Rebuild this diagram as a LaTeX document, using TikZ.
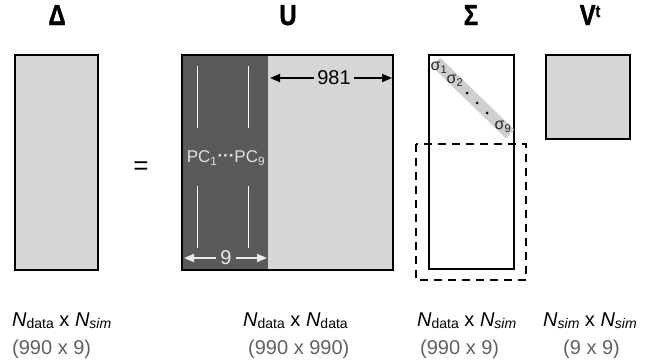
\documentclass[tikz,border=0pt]{standalone}
\usepackage{fontspec}
\setmainfont{Liberation Sans}
\newfontfamily\ttlfont{Liberation Sans}[UprightFont={* Bold}, FakeBold=1.5]
\usetikzlibrary{arrows.meta}
\definecolor{lightfill}{HTML}{D6D6D6}
\definecolor{darkfill}{HTML}{5A5A5A}
\definecolor{bandgray}{HTML}{CFCFCF}
\definecolor{subgray}{HTML}{606060}
\newcommand{\NdataLab}{\textit{N}\raisebox{-2pt}{\fontsize{14}{14}\selectfont data}}
\newcommand{\NsimLab}{\textit{N}\raisebox{-2pt}{\fontsize{14}{14}\selectfont\itshape sim}}
\newcommand{\TtlBox}[1]{\scalebox{0.82}[1]{#1}}
\begin{document}
\begin{tikzpicture}[x=1pt,y=-1pt,
  mat/.style={draw=black, line width=1.3pt, fill=lightfill},
  ttl/.style={font=\ttlfont\fontsize{29}{29}\selectfont, inner sep=0pt},
  lab1/.style={anchor=base west, inner sep=0pt, font=\fontsize{20}{20}\selectfont},
  lab2/.style={anchor=base west, inner sep=0pt, font=\fontsize{20}{20}\selectfont, text=subgray},
  arr/.style={-{Triangle[length=10pt,width=8pt]}, line width=1.8pt},
  pcline/.style={draw=white, line width=0.8pt},
  sig/.style={font=\fontsize{16}{16}\selectfont, text=black!85, inner sep=0pt}
]
\useasboundingbox (0,0) rectangle (670,364);

% titles
\node[ttl, anchor=base] (tD) at (57,25) {\TtlBox{Δ}};
\node[ttl, anchor=base] (tU) at (288,25) {\TtlBox{U}};
\node[ttl, anchor=base] (tS) at (471,25) {\TtlBox{Σ}};
\node[ttl, anchor=base] (tV) at (590,25) {\TtlBox{V\raisebox{8pt}{\fontsize{17}{17}\selectfont t}}};

% Delta matrix
\path[mat] (15,55) rectangle (98,270);

% equals sign
\node[font=\fontsize{26}{26}\selectfont, inner sep=0pt] (eq) at (141,168) {=};

% U matrix
\fill[lightfill] (182,55) rectangle (393,270);
\fill[darkfill] (182,55) rectangle (268,270);
\draw[line width=1.3pt] (182,55) rectangle (393,270);
\draw[pcline] (197,66) -- (197,128);
\draw[pcline] (248,66) -- (248,128);
\draw[pcline] (197,186) -- (197,248);
\draw[pcline] (248,186) -- (248,248);
\node[text=white!88!black, font=\fontsize{17}{17}\selectfont, inner sep=0pt] (pc) at (226,158)
  {PC\textsubscript{1}\raisebox{1pt}{\textbf{···}}PC\textsubscript{9}};

% 9 arrow
\node[text=white!92!black, font=\fontsize{20}{20}\selectfont, inner sep=4pt] (n9) at (226,258) {9};
\coordinate (n9l) at (184,258);
\coordinate (n9r) at (267,258);
\draw[arr, white!92!black] (n9.west) -- (n9l);
\draw[arr, white!92!black] (n9.east) -- (n9r);

% 981 arrow
\node[font=\fontsize{20}{20}\selectfont, inner sep=3pt] (n981) at (334,78) {981};
\coordinate (a981l) at (270,78);
\coordinate (a981r) at (392,78);
\draw[arr] (n981.west) -- (a981l);
\draw[arr] (n981.east) -- (a981r);

% Sigma matrix
\draw[line width=1.3pt, fill=white] (429,55) rectangle (514,269);
\coordinate (b1) at (436,62);
\coordinate (b2) at (510,134);
\draw[bandgray, line width=12pt] (b1) -- (b2);
\node[sig] (s1) at (439,68) {σ\textsubscript{1}};
\node[sig] (s2) at (455,81) {σ\textsubscript{2}};
\fill (467,93) circle (1.5pt);
\fill (477,103) circle (1.5pt);
\fill (487,113) circle (1.5pt);
\node[sig] (s9) at (503,127) {σ\textsubscript{9}};
\draw[line width=1.3pt, dash pattern=on 8pt off 6pt] (416,144) rectangle (526,280);

% Vt matrix
\path[mat] (546,55) rectangle (630,139);

% bottom labels
\node[lab1] (l1a) at (12,326) {\NdataLab{} x \NsimLab};
\node[lab2] (l1b) at (12,354) {(990 x 9)};
\node[lab1] (l2a) at (243,326) {\NdataLab{} x \NdataLab};
\node[lab2] (l2b) at (248,354) {(990 x 990)};
\node[lab1] (l3a) at (417,326) {\NdataLab{} x \NsimLab};
\node[lab2] (l3b) at (420,354) {(990 x 9)};
\node[lab1] (l4a) at (543,326) {\NsimLab{} x \NsimLab};
\node[lab2] (l4b) at (563,354) {(9 x 9)};
\end{tikzpicture}
\end{document}
